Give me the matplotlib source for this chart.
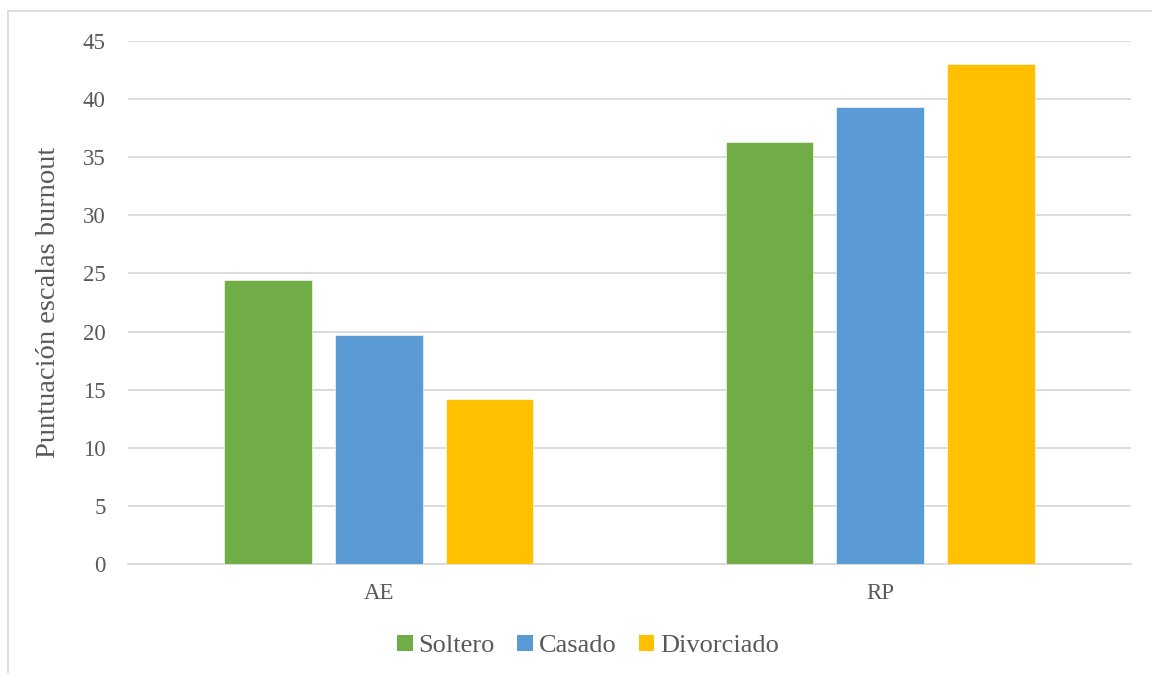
import matplotlib
matplotlib.use("Agg")
import matplotlib.pyplot as plt
from matplotlib.patches import Patch, Rectangle
import numpy as np

categories = ["AE", "RP"]
series_names = ["Soltero", "Casado", "Divorciado"]
soltero = [24.4, 36.3]
casado = [19.7, 39.3]
divorciado = [14.2, 43.0]
colors = ["#70AD47", "#5B9BD5", "#FFC000"]
yticks = [0, 5, 10, 15, 20, 25, 30, 35, 40, 45]

plt.rcParams['font.family'] = ['Liberation Serif', 'DejaVu Serif']
text_color = "#595959"
grid_color = "#D9D9D9"

W, H = 1152, 673
fig = plt.figure(figsize=(W / 100, H / 100), dpi=100)
ax = fig.add_axes([128 / W, (H - 564) / H, (1131 - 128) / W, (564 - 41) / H])

x = np.arange(len(categories))
width = 0.175
offsets = [-0.221, 0.0, 0.221]
for vals, name, col, off in zip([soltero, casado, divorciado], series_names, colors, offsets):
    ax.bar(x + off, vals, width, color=col, label=name, edgecolor="white", linewidth=0.4, zorder=3)

ax.set_xlim(-0.5, len(categories) - 0.5)
ax.set_ylim(0, 45)
ax.set_yticks(yticks)
ax.set_xticks(x)
ax.set_xticklabels(categories)
ax.yaxis.grid(True, color=grid_color, linewidth=1.3, zorder=0)
ax.set_axisbelow(True)
for s in ["top", "right", "left"]:
    ax.spines[s].set_visible(False)
ax.spines["bottom"].set_color(grid_color)
ax.spines["bottom"].set_linewidth(1.3)
ax.tick_params(axis="both", length=0, labelsize=16.5, colors=text_color)
ax.tick_params(axis="y", pad=16)
ax.tick_params(axis="x", pad=14)
ax.set_ylabel("Puntuación escalas burnout", fontsize=20.5, color=text_color, labelpad=16)

handles = [Patch(facecolor=c, edgecolor="none") for c in colors]
fig.legend(handles, series_names, loc="center", bbox_to_anchor=(588 / W, (H - 646) / H),
           ncol=3, frameon=False, fontsize=19, labelcolor=text_color,
           handlelength=0.6, handleheight=0.6, handletextpad=0.2, columnspacing=0.85)

border = Rectangle((8 / W, -0.1), 1.2, (H - 11) / H + 0.1, transform=fig.transFigure,
                   fill=False, edgecolor=grid_color, linewidth=1.3)
fig.patches.append(border)

fig.savefig("out.png", dpi=100)
